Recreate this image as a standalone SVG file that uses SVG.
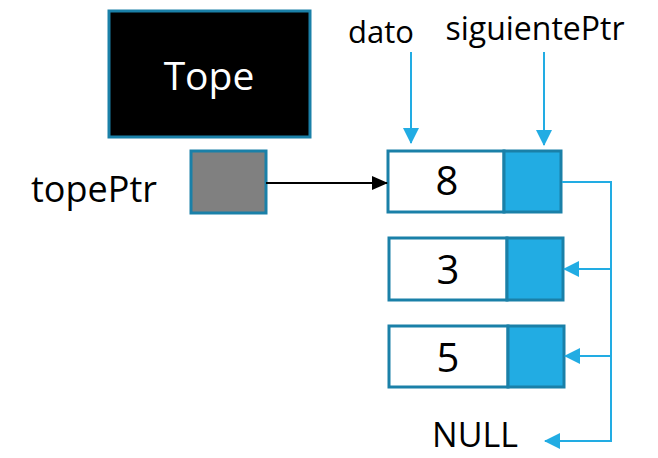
<svg xmlns="http://www.w3.org/2000/svg" width="658" height="458" viewBox="0 0 658 458">
<style>
text{font-family:"Open Sans","Noto Sans",sans-serif;fill:#000}
.box{stroke:#1a80a8;stroke-width:3}
.blue{stroke:#22ace3;stroke-width:2;fill:none}
</style>
<defs>
<marker id="ab" markerWidth="16" markerHeight="16" refX="15" refY="8" orient="auto" markerUnits="userSpaceOnUse"><path d="M0,0 L16,8 L0,16 Z" fill="#22ace3"/></marker>
<marker id="ak" markerWidth="16" markerHeight="14" refX="15" refY="7" orient="auto" markerUnits="userSpaceOnUse"><path d="M0,0 L16,7 L0,14 Z" fill="#000"/></marker>
</defs>
<rect width="658" height="458" fill="#fff"/>
<g id="tope">
<rect class="box" x="109" y="11" width="201" height="126" fill="#000"/>
<text x="209" y="90" font-size="39" text-anchor="middle" style="fill:#fff">Tope</text>
</g>
<g id="labels">
<text x="381" y="43" font-size="31" text-anchor="middle">dato</text>
<text x="535" y="40" font-size="32" text-anchor="middle">siguientePtr</text>
<text x="94" y="202" font-size="36" text-anchor="middle">topePtr</text>
<text x="475" y="447" font-size="34" text-anchor="middle">NULL</text>
</g>
<g id="topePtr">
<rect class="box" x="191" y="151" width="75" height="62" fill="#808080"/>
</g>
<g id="node8">
<rect class="box" x="388" y="151" width="116" height="61" fill="#fff"/>
<rect class="box" x="504" y="151" width="57" height="61" fill="#22ace3"/>
<text x="447" y="195" font-size="40" text-anchor="middle">8</text>
</g>
<g id="node3">
<rect class="box" x="389" y="238" width="118" height="62" fill="#fff"/>
<rect class="box" x="507" y="238" width="56" height="62" fill="#22ace3"/>
<text x="448" y="284" font-size="40" text-anchor="middle">3</text>
</g>
<g id="node5">
<rect class="box" x="389" y="326" width="119" height="61" fill="#fff"/>
<rect class="box" x="508" y="326" width="56" height="61" fill="#22ace3"/>
<text x="448" y="372" font-size="40" text-anchor="middle">5</text>
</g>
<g id="connectors">
<line class="blue" x1="411" y1="52" x2="411" y2="143" marker-end="url(#ab)"/>
<line class="blue" x1="544" y1="52" x2="544" y2="145" marker-end="url(#ab)"/>
<line x1="266" y1="183" x2="387" y2="183" stroke="#000" stroke-width="2" marker-end="url(#ak)"/>
<polyline class="blue" points="562,182 611,182 611,441 545,441" marker-end="url(#ab)"/>
<line class="blue" x1="611" y1="269" x2="564" y2="269" marker-end="url(#ab)"/>
<line class="blue" x1="611" y1="356" x2="565" y2="356" marker-end="url(#ab)"/>
</g>
</svg>
